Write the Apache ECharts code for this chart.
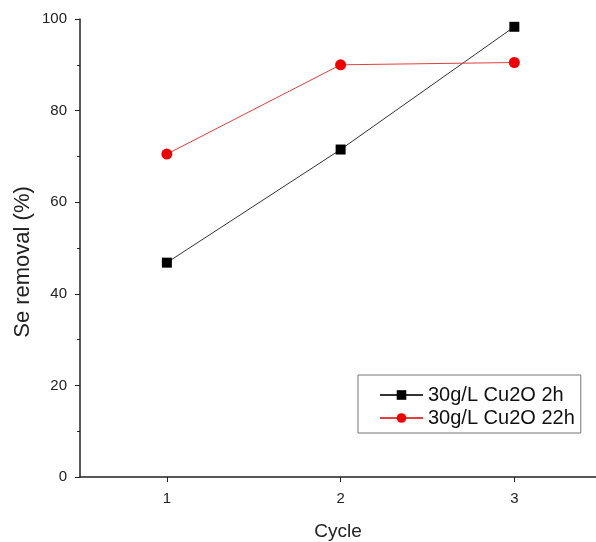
<!DOCTYPE html>
<html>
<head>
<meta charset="utf-8">
<script src="https://cdn.jsdelivr.net/npm/echarts@6/dist/echarts.min.js"></script>
<style>
html, body { margin: 0; padding: 0; background: #fff; }
#chart { width: 596px; height: 542px; }
</style>
</head>
<body>
<div id="chart"></div>
<script>
//循环次数
var cycles = [1, 2, 3];
//2h 去除率
var removal2h = [46.8, 71.5, 98.3];
//22h 去除率
var removal22h = [70.5, 90.0, 90.5];

var font = 'Liberation Sans, Arial, sans-serif';

var chart = echarts.init(document.getElementById('chart'));

var toPairs = function(xs, ys) {
	var out = [];
	for (var i = 0; i < xs.length; i++) {
		out.push([xs[i], ys[i]]);
	}
	return out;
};

var option = {
	backgroundColor: '#fff',
	animation: false,
	textStyle: { fontFamily: font },
	grid: {
		left: 80,
		right: 0,
		top: 19,
		bottom: 65,
		outerBoundsMode: 'none'
	},
	//纵轴标题单独放置,位置略低于轴中心
	graphic: [{
		type: 'text',
		x: 23,
		y: 262,
		rotation: Math.PI / 2,
		style: {
			text: 'Se removal (%)',
			fontSize: 22,
			fontFamily: font,
			fill: '#222',
			align: 'center',
			verticalAlign: 'middle'
		}
	}],
	legend: {
		left: 358,
		top: 375,
		orient: 'vertical',
		borderColor: '#777',
		borderWidth: 1,
		padding: [10, 6, 5, 21],
		itemGap: 3,
		itemWidth: 43,
		itemHeight: 12,
		textStyle: { fontSize: 20, color: '#111', fontFamily: font },
		data: ['30g/L Cu2O 2h', '30g/L Cu2O 22h']
	},
	xAxis: {
		type: 'value',
		min: 0.5,
		max: 3.47,
		name: 'Cycle',
		nameLocation: 'middle',
		nameGap: 45,
		nameTextStyle: { fontSize: 19, color: '#222', fontFamily: font },
		axisLine: { lineStyle: { color: '#222', width: 1.5 } },
		axisTick: { show: true, length: 5, customValues: cycles, lineStyle: { color: '#222' } },
		axisLabel: { customValues: cycles, fontSize: 15, color: '#222', margin: 14 },
		splitLine: { show: false }
	},
	yAxis: {
		type: 'value',
		min: 0,
		max: 100,
		interval: 20,
		axisLine: { show: true, lineStyle: { color: '#222', width: 1.5 } },
		axisTick: { show: true, length: 5, lineStyle: { color: '#222' } },
		minorTick: { show: true, splitNumber: 2, length: 3, lineStyle: { color: '#222' } },
		axisLabel: { fontSize: 15, color: '#222', margin: 13 },
		splitLine: { show: false }
	},
	series: [{
		name: '30g/L Cu2O 2h',
		type: 'line',
		data: toPairs(cycles, removal2h),
		symbol: 'rect',
		symbolSize: 10,
		itemStyle: { color: '#000' },
		lineStyle: { color: '#333', width: 1 }
	}, {
		name: '30g/L Cu2O 22h',
		type: 'line',
		data: toPairs(cycles, removal22h),
		symbol: 'circle',
		symbolSize: 11,
		itemStyle: { color: '#ee0000' },
		lineStyle: { color: '#e04040', width: 1 }
	}]
};

chart.setOption(option);
</script>
</body>
</html>
